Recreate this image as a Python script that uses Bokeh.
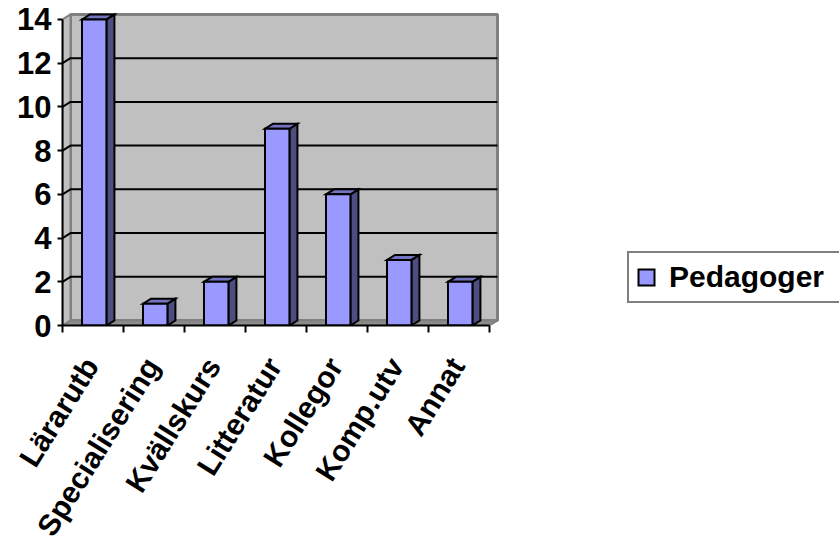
import math
from bokeh.plotting import figure
from bokeh.models import Range1d, LinearAxis, FixedTicker, Legend, LegendItem
from bokeh.embed import file_html
from bokeh.resources import INLINE

categories = ["Lärarutb", "Specialisering", "Kvällskurs", "Litteratur", "Kollegor", "Komp.utv", "Annat"]
values = [14, 1, 2, 9, 6, 3, 2]
y_ticks = [0, 2, 4, 6, 8, 10, 12, 14]
series_name = "Pedagoger"

# layout / style parameters
W, H = 839, 555
border_left, border_bottom = 62, 230
frame_w = W - border_left
frame_h = H - border_bottom
px_x = 61.0     # pixels per category
px_y = 21.86    # pixels per value unit
depth_px = (8, 5)
bar_w = 0.40
bar_shift = 0.02
label_shift = -0.03
n = len(categories)
ymax = y_ticks[-1]
DX = depth_px[0] / px_x
DY = depth_px[1] / px_y

FONT = "Liberation Sans"
FRONT = "#9999FF"
SIDE = "#4D4D80"
TOP = "#7373BF"
WALL = "#C0C0C0"
WALL_EDGE = "#808080"
FLOOR = "#8C8C8C"

p = figure(width=W, height=H,
           x_range=Range1d(0, frame_w / px_x), y_range=Range1d(0, frame_h / px_y),
           output_backend="svg", toolbar_location=None,
           x_axis_type=None, y_axis_type=None,
           min_border_left=border_left, min_border_bottom=border_bottom,
           min_border_top=0, min_border_right=0)
p.outline_line_color = None
p.background_fill_color = "white"
p.border_fill_color = "white"

# back wall
p.quad(left=DX, right=n + DX, bottom=DY, top=ymax + DY,
       fill_color=WALL, line_color=WALL_EDGE, line_width=3)
# left side wall
p.patch([0, DX, DX, 0], [0, DY, ymax + DY, ymax],
        fill_color=WALL, line_color=WALL_EDGE, line_width=2)
# floor
p.patch([0, n, n + DX, DX], [0, 0, DY, DY],
        fill_color=FLOOR, line_color=WALL_EDGE, line_width=2)

# gridlines (on side wall and back wall)
gxs, gys = [], []
for v in y_ticks[1:-1]:
    gxs.append([0, DX, n + DX])
    gys.append([v, v + DY, v + DY])
p.multi_line(gxs, gys, line_color="black", line_width=2)

# bars
centers = [i + 0.5 + bar_shift for i in range(n)]
side_xs, side_ys, top_xs, top_ys = [], [], [], []
for c, v in zip(centers, values):
    x0, x1 = c - bar_w / 2, c + bar_w / 2
    side_xs.append([x1, x1 + DX, x1 + DX, x1])
    side_ys.append([0, DY, v + DY, v])
    top_xs.append([x0, x1, x1 + DX, x0 + DX])
    top_ys.append([v, v, v + DY, v + DY])
p.patches(side_xs, side_ys, fill_color=SIDE, line_color="black", line_width=2, line_join="miter")
p.patches(top_xs, top_ys, fill_color=TOP, line_color="black", line_width=2, line_join="miter")
front = p.vbar(x=centers, top=values, bottom=0, width=bar_w,
               fill_color=FRONT, line_color="black", line_width=2, line_join="miter")

# x axis
label_pos = [i + 0.5 + label_shift for i in range(n)]
xaxis = LinearAxis(
    ticker=FixedTicker(ticks=label_pos, minor_ticks=list(range(n + 1))),
    bounds=(0, n),
    major_label_overrides={pos: cat for pos, cat in zip(label_pos, categories)},
    major_label_orientation=math.radians(58),
    major_tick_line_color=None, major_tick_in=0, major_tick_out=0,
    minor_tick_line_color="black", minor_tick_line_width=2,
    minor_tick_in=0, minor_tick_out=7,
    axis_line_color="black", axis_line_width=2,
    major_label_standoff=28,
    major_label_text_font=FONT, major_label_text_font_style="bold",
    major_label_text_font_size="30px", major_label_text_color="black",
)
p.add_layout(xaxis, "below")

# y axis
yaxis = LinearAxis(
    ticker=FixedTicker(ticks=y_ticks, minor_ticks=[]),
    bounds=(0, ymax),
    major_tick_line_color="black", major_tick_line_width=2,
    major_tick_in=0, major_tick_out=5,
    minor_tick_line_color=None,
    axis_line_color="black", axis_line_width=2,
    major_label_standoff=6,
    major_label_text_font=FONT, major_label_text_font_style="bold",
    major_label_text_font_size="31px", major_label_text_color="black",
)
p.add_layout(yaxis, "left")

legend = Legend(items=[LegendItem(label=series_name, renderers=[front])],
                location=(565, 22), margin=0, padding=7,
                border_line_color="black", border_line_width=2,
                background_fill_color="white", background_fill_alpha=1,
                label_text_font=FONT, label_text_font_style="bold",
                label_text_font_size="30px", label_text_color="black",
                glyph_width=20, glyph_height=20, label_standoff=13,
                label_height=29, label_width=200)
p.add_layout(legend)

open("out.html", "w").write(file_html(p, INLINE))
